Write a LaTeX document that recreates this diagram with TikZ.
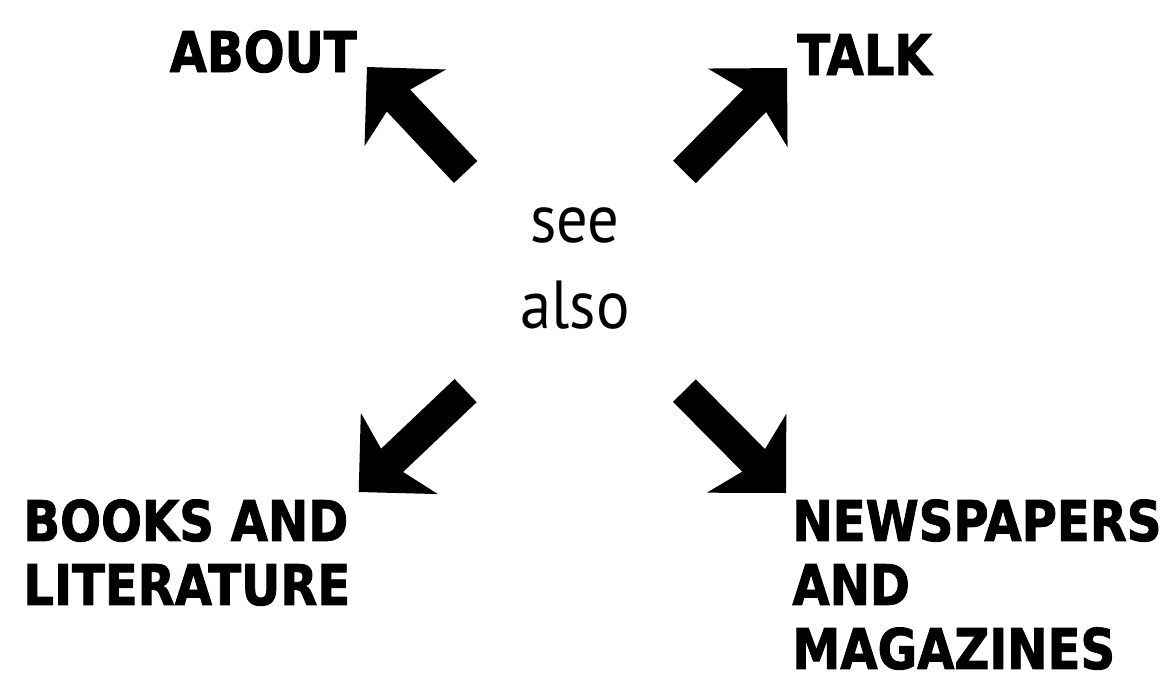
\documentclass[tikz,border=0pt]{standalone}
\usepackage{fontspec}
\usepackage{tikz}
\usetikzlibrary{arrows.meta,positioning,calc}
\newfontfamily\labelfont[FakeStretch=0.86,BoldFeatures={FakeBold=1.6}]{DejaVu Sans}
\newfontfamily\seefont[FakeStretch=0.92]{PT Sans}

\begin{document}
\begin{tikzpicture}[x=0.5pt,y=-0.5pt]
    \tikzset{
      topic/.style={inner sep=0pt,align=left,font=\labelfont\bfseries\fontsize{28}{32}\selectfont},
      hub/.style={inner xsep=0pt,inner ysep=17.5pt,minimum width=109pt,text depth=13.5pt,align=center,font=\seefont\fontsize{34}{43}\selectfont},
      fat/.style={-{Stealth[length=28pt,width=56pt,inset=7pt,line width=0pt]},draw=black,line width=16pt}
    }
    \useasboundingbox (0,0) rectangle (1165,680);
    \node[hub,anchor=north] (see) at (575,172) {see\\also};
    \node[topic,anchor=base east] (about) at (357,72) {ABOUT};
    \node[topic,anchor=base west] (talk) at (797,75) {TALK};
    \node[topic,anchor=north west] (books) at (23,499) {BOOKS AND\\LITERATURE};
    \node[topic,anchor=north west] (news) at (792,499) {NEWSPAPERS\\AND\\MAGAZINES};
    \draw[fat] (see.north west) -- ([xshift=5pt,yshift=2.5pt]about.base east);
    \draw[fat] (see.north east) -- ([xshift=-5pt,yshift=3.5pt]talk.base west);
    \draw[fat] (see.south west) -- ([xshift=4pt,yshift=3.5pt]books.north east);
    \draw[fat] (see.south east) -- ([xshift=-3pt,yshift=3pt]news.north west);
  \end{tikzpicture}
\end{document}
